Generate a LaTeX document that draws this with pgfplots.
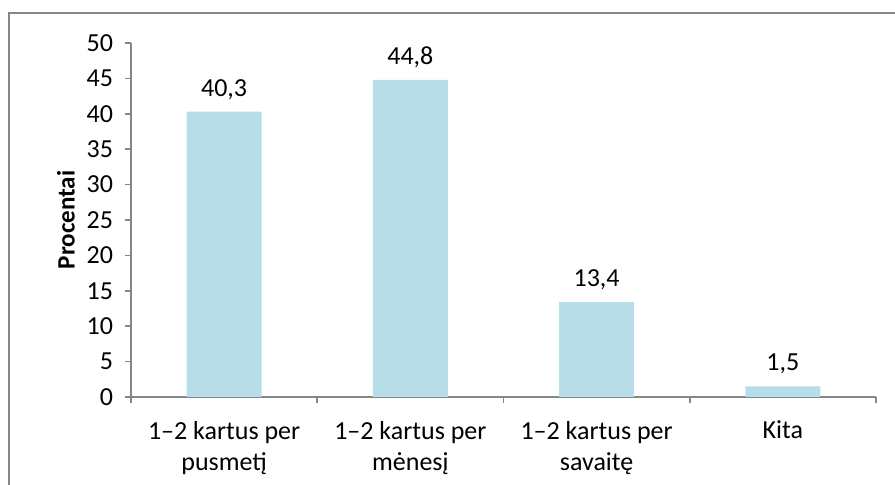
\documentclass[border=0pt]{standalone}
\usepackage{fontspec}
\setmainfont{Carlito}
\usepackage{pgfplots}
\pgfplotsset{compat=1.18}
\definecolor{barblue}{RGB}{183,221,232}
\definecolor{axisgray}{RGB}{134,134,134}

\begin{document}
\begin{tikzpicture}
% picture area: 895x485 px at 0.5pt per px, axis origin at (131,397) px
\useasboundingbox (-65.5pt,-44pt) rectangle (382pt,198.5pt);
\draw[axisgray, line width=1pt] (-61pt,-60pt) -- (-61pt,192pt) -- (400pt,192pt);
\begin{axis}[
    scale only axis,
    width=372.5pt, height=177pt,
    font=\fontsize{13}{15.5}\selectfont,
    axis lines*=left,
    axis line style={axisgray, line width=0.8pt},
    ymin=0, ymax=50, ytick={0,5,...,50},
    xmin=-0.5, xmax=3.5,
    xtick={0,1,2,3},
    xticklabels={{1–2 kartus per\\pusmetį},{1–2 kartus per\\mėnesį},{1–2 kartus per\\savaitę},{Kita}},
    x tick label style={align=center, yshift=-5.5pt},
    y tick label style={xshift=-2.5pt},
    minor xtick={-0.5,0.5,1.5,2.5,3.5},
    major x tick style={draw=none},
    minor tick length=3pt,
    major tick length=3pt,
    tick align=outside,
    tick style={axisgray, line width=0.8pt},
    ylabel={\textbf{Procentai}},
    ylabel style={font=\fontsize{12.5}{15}\selectfont, yshift=-1pt},
    /pgf/number format/assume math mode=true,
    ybar, bar width=37.5pt,
    nodes near coords,
    nodes near coords style={yshift=2.5pt, /pgf/number format/.cd, fixed, fixed zerofill, precision=1, use comma, assume math mode=true},
]
\addplot[fill=barblue, draw=none] coordinates {(0,40.3) (1,44.8) (2,13.4) (3,1.5)};
\end{axis}
\end{tikzpicture}
\end{document}
